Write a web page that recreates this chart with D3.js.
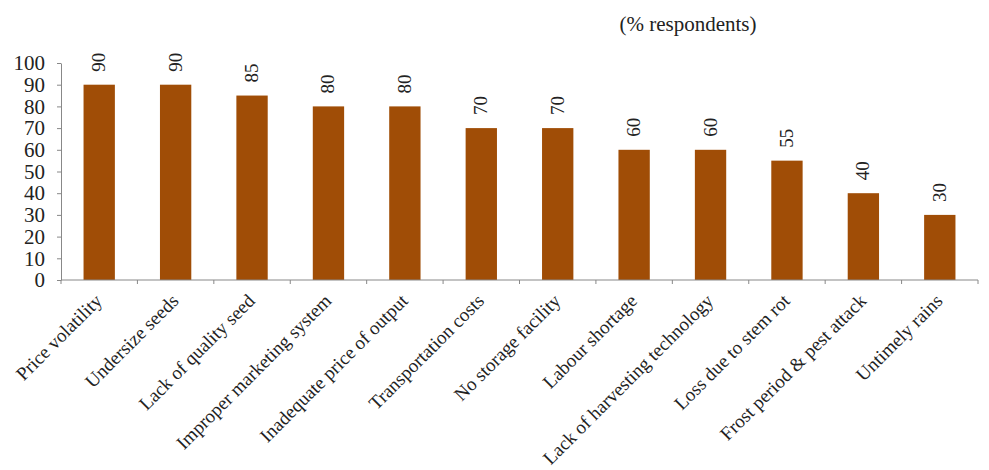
<!DOCTYPE html>
<html><head><meta charset="utf-8">
<script src="https://cdn.jsdelivr.net/npm/d3@7"></script>
<style>body{margin:0;background:#fff}svg{display:block}
text{font-family:"Liberation Serif","DejaVu Serif","Times New Roman",serif}</style>
</head><body><svg id="c" width="989" height="470"></svg>
<script>
const categories = ["Price volatility","Undersize seeds","Lack of quality seed","Improper marketing system","Inadequate price of output","Transportation costs","No storage facility","Labour shortage","Lack of harvesting technology","Loss due to stem rot","Frost period & pest attack","Untimely rains"];
const values = [90,90,85,80,80,70,70,60,60,55,40,30];
const yTicks = [0,10,20,30,40,50,60,70,80,90,100];
const unitLabel = "(% respondents)";

(function(){
const svg = d3.select("#c");
const mL = 61, mR = 978, mT = 63, mB = 280;
const x = d3.scaleBand().domain(categories).range([mL, mR]).paddingInner(0.59).paddingOuter(0.295);
const y = d3.scaleLinear().domain([0,100]).range([mB, mT]);
const axisColor = "#888";

svg.selectAll("rect.bar").data(values).join("rect").attr("class","bar")
  .attr("x",(d,i)=>x(categories[i])).attr("width",x.bandwidth())
  .attr("y",d=>y(d)).attr("height",d=>y(0)-y(d)).attr("fill","#a04d06");

const ya = svg.append("g").attr("transform",`translate(${mL},0)`)
  .call(d3.axisLeft(y).tickValues(yTicks).tickSize(4).tickPadding(12).tickSizeOuter(0));
ya.attr("font-family",null).attr("font-size",null);
ya.selectAll("text").attr("font-size",21).attr("fill","#222");
ya.selectAll("line,path").attr("stroke",axisColor);

const xa = svg.append("g").attr("transform",`translate(0,${mB})`);
xa.append("line").attr("x1",mL).attr("x2",mR).attr("y1",0).attr("y2",0).attr("stroke",axisColor);
const bounds = d3.range(categories.length+1).map(i=>mL + i*(mR-mL)/categories.length);
xa.selectAll("line.t").data(bounds).join("line").attr("class","t")
  .attr("x1",d=>d).attr("x2",d=>d).attr("y1",0).attr("y2",4).attr("stroke",axisColor);

svg.selectAll("text.cat").data(categories).join("text").attr("class","cat")
  .attr("transform",d=>`translate(${x(d)+x.bandwidth()/2+4},${mB+22}) rotate(-45)`)
  .attr("text-anchor","end").attr("font-size",19).attr("fill","#222")
  .text(d=>d);

svg.selectAll("text.val").data(values).join("text").attr("class","val")
  .attr("transform",(d,i)=>`translate(${x(categories[i])+x.bandwidth()/2+6},${y(d)-13}) rotate(-90)`)
  .attr("text-anchor","start").attr("font-size",19).attr("fill","#222")
  .text(d=>d);

svg.append("text").attr("x",688).attr("y",31).attr("text-anchor","middle")
  .attr("font-size",21).attr("fill","#222").text(unitLabel);
})();
</script></body></html>
